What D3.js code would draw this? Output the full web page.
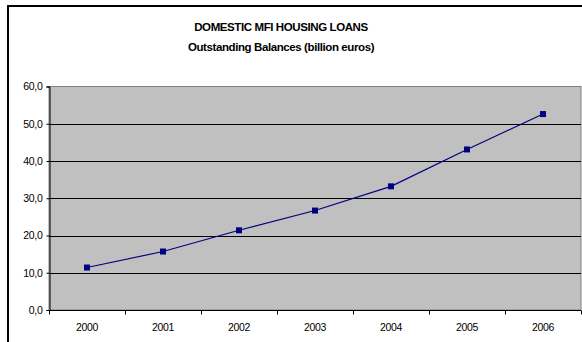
<!DOCTYPE html>
<html>
<head>
<meta charset="utf-8">
<script src="https://cdn.jsdelivr.net/npm/d3@7"></script>
<style>
  html, body { margin: 0; padding: 0; background: #fff; }
  svg { display: block; }
  text { font-family: "Liberation Sans", Arial, sans-serif; }
</style>
</head>
<body>
<svg id="chart" width="582" height="342"></svg>
<script>
// Outstanding balances of domestic MFI housing loans, billion euros
const years = ["2000", "2001", "2002", "2003", "2004", "2005", "2006"];
const balances = [11.4, 15.7, 21.4, 26.7, 33.2, 43.1, 52.6];
const yTicks = [0, 10, 20, 30, 40, 50, 60];
const titleLines = ["DOMESTIC MFI HOUSING LOANS", "Outstanding Balances (billion euros)"];

const svg = d3.select("#chart");
const W = 582, H = 342;
const plot = { left: 49, right: 581, top: 86.5, bottom: 310 };

// chart frame (extends past the visible area on the right and bottom)
svg.append("rect")
  .attr("x", 8).attr("y", 6)
  .attr("width", W + 20).attr("height", H + 20)
  .attr("fill", "#fff").attr("stroke", "#000").attr("stroke-width", 2);

// titles
svg.selectAll("text.title")
  .data(titleLines)
  .join("text")
  .attr("class", "title")
  .attr("x", 281)
  .attr("y", (d, i) => 31 + i * 20)
  .attr("text-anchor", "middle")
  .attr("font-size", 11.5)
  .attr("font-weight", "bold")
  .attr("letter-spacing", -0.4)
  .attr("fill", "#000")
  .text(d => d);

const x = d3.scaleBand().domain(years).range([plot.left, plot.right]);
const y = d3.scaleLinear().domain([0, 60]).range([plot.bottom, plot.top]);

// plot area background
svg.append("rect")
  .attr("x", plot.left).attr("y", plot.top)
  .attr("width", plot.right - plot.left).attr("height", plot.bottom - plot.top)
  .attr("fill", "#c0c0c0").attr("stroke", "#808080").attr("stroke-width", 1);

// horizontal gridlines
svg.append("g")
  .selectAll("line")
  .data(yTicks.filter(v => v > 0 && v < 60))
  .join("line")
  .attr("x1", plot.left).attr("x2", plot.right)
  .attr("y1", d => Math.round(y(d)) + 0.5).attr("y2", d => Math.round(y(d)) + 0.5)
  .attr("stroke", "#000").attr("stroke-width", 1);

// y axis
const yAxis = svg.append("g")
  .attr("transform", `translate(${plot.left + 0.5},0)`)
  .call(d3.axisLeft(y).tickValues(yTicks).tickSize(3).tickPadding(4)
    .tickFormat(d => d3.format(".1f")(d).replace(".", ",")));
yAxis.select(".domain").attr("stroke", "#000");
yAxis.selectAll(".tick line").attr("stroke", "#000");
yAxis.selectAll(".tick text")
  .attr("font-family", "'Liberation Sans', Arial, sans-serif")
  .attr("font-size", 10.5).attr("letter-spacing", -0.3).attr("fill", "#000");

// x axis: ticks sit on category boundaries, labels at category centres
const xAxisG = svg.append("g")
  .attr("transform", `translate(0,${plot.bottom + 0.5})`);
xAxisG.append("line")
  .attr("x1", plot.left).attr("x2", plot.right)
  .attr("stroke", "#000");
const boundaries = years.map(d => x(d)).concat([x(years[years.length - 1]) + x.bandwidth()]);
xAxisG.selectAll("line.tk")
  .data(boundaries)
  .join("line")
  .attr("class", "tk")
  .attr("x1", d => Math.round(d) + 0.5).attr("x2", d => Math.round(d) + 0.5)
  .attr("y1", 0).attr("y2", 4)
  .attr("stroke", "#000");
xAxisG.selectAll("text")
  .data(years)
  .join("text")
  .attr("x", d => x(d) + x.bandwidth() / 2)
  .attr("y", 20)
  .attr("text-anchor", "middle")
  .attr("font-size", 10.5)
  .attr("letter-spacing", -0.3)
  .attr("fill", "#000")
  .text(d => d);

// series line
const pts = years.map((d, i) => ({ year: d, value: balances[i] }));
svg.append("path")
  .datum(pts)
  .attr("fill", "none")
  .attr("stroke", "#000080")
  .attr("stroke-width", 1.2)
  .attr("d", d3.line().x(d => x(d.year) + x.bandwidth() / 2).y(d => y(d.value)));

// square markers
svg.append("g")
  .selectAll("rect")
  .data(pts)
  .join("rect")
  .attr("x", d => x(d.year) + x.bandwidth() / 2 - 3)
  .attr("y", d => y(d.value) - 3)
  .attr("width", 6).attr("height", 6)
  .attr("fill", "#000080");
</script>
</body>
</html>
